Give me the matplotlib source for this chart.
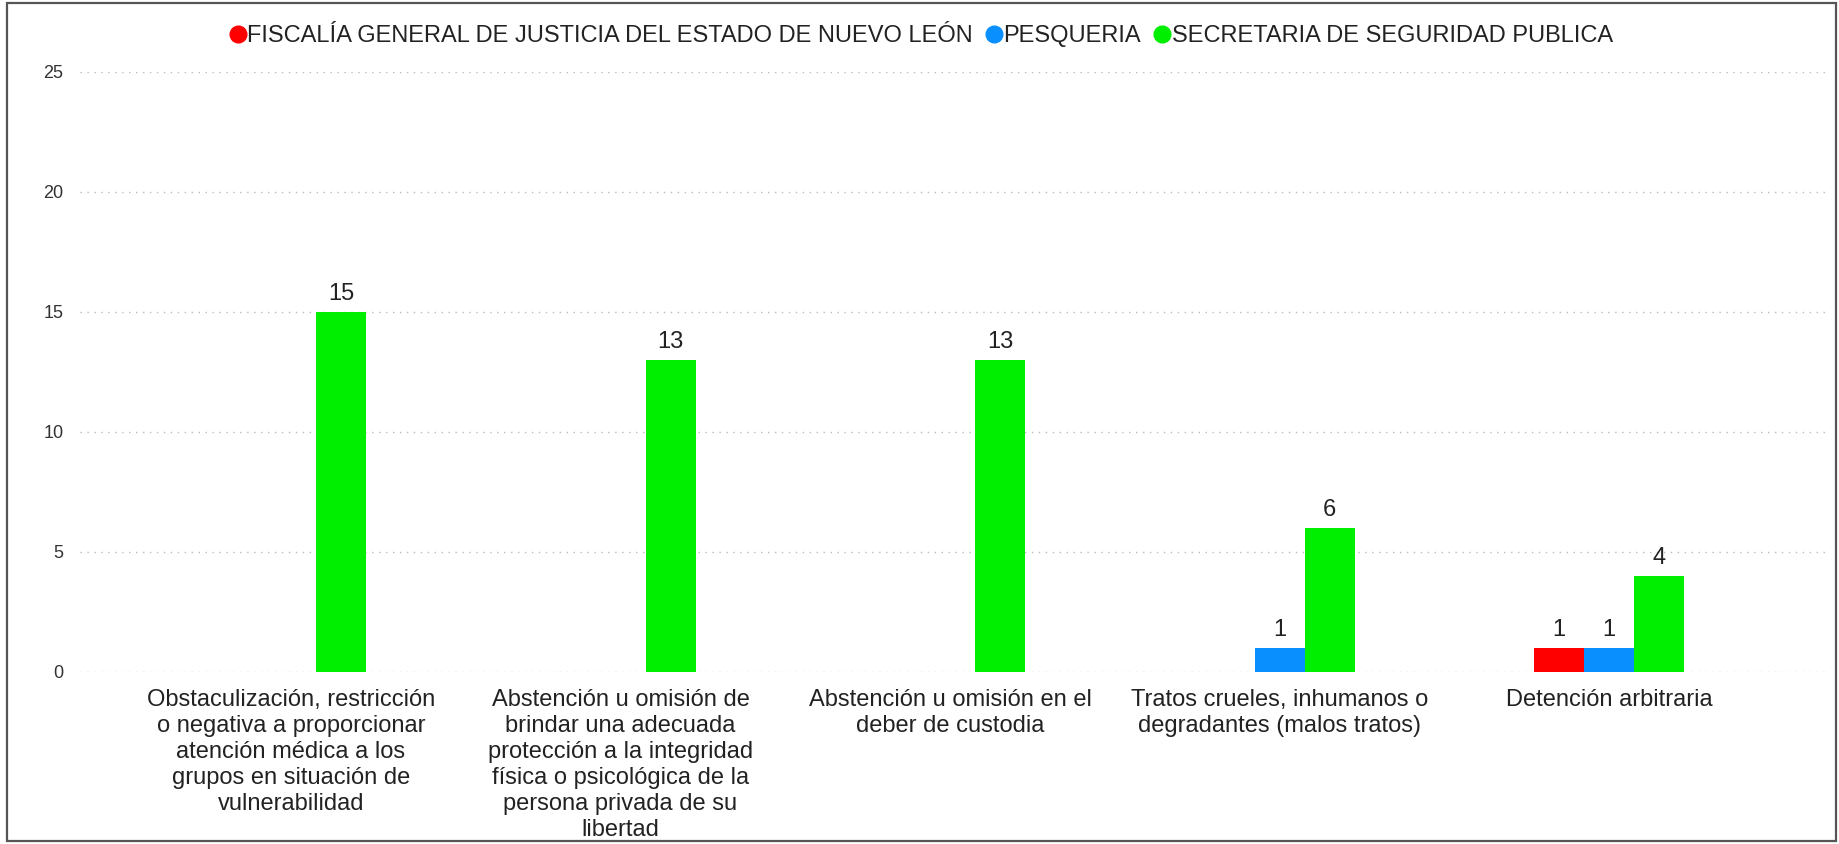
import matplotlib.pyplot as plt
import numpy as np
from matplotlib.lines import Line2D
from matplotlib.patches import Rectangle

plt.rcParams['font.family'] = ['Liberation Sans', 'DejaVu Sans']

categorias = [
    "Obstaculización, restricción\no negativa a proporcionar\natención médica a los\ngrupos en situación de\nvulnerabilidad",
    "Abstención u omisión de\nbrindar una adecuada\nprotección a la integridad\nfísica o psicológica de la\npersona privada de su\nlibertad",
    "Abstención u omisión en el\ndeber de custodia",
    "Tratos crueles, inhumanos o\ndegradantes (malos tratos)",
    "Detención arbitraria",
]
series = [
    "FISCALÍA GENERAL DE JUSTICIA DEL ESTADO DE NUEVO LEÓN",
    "PESQUERIA",
    "SECRETARIA DE SEGURIDAD PUBLICA",
]
fiscalia = [0, 0, 0, 0, 1]
pesqueria = [0, 0, 0, 1, 1]
seguridad = [15, 13, 13, 6, 4]
colores = ['#FF0000', '#0A8FFF', '#00EE00']

fig = plt.figure(figsize=(18.39, 8.44), dpi=100)
ax = fig.add_axes([80 / 1839, 172 / 844, (1825 - 80) / 1839, (672 - 72) / 844])

x = np.arange(len(categorias))
ancho = 0.152
for i, (vals, color) in enumerate(zip([fiscalia, pesqueria, seguridad], colores)):
    pos = x + (i - 1) * ancho
    ax.bar(pos, vals, width=ancho, color=color, zorder=3)
    for xp, v in zip(pos, vals):
        if v > 0:
            ax.text(xp, v + 0.3, str(v), ha='center', va='bottom',
                    fontsize=17, color='#222222')

ax.set_ylim(0, 25)
ax.set_xlim(-0.64, 4.655)
ax.set_yticks([0, 5, 10, 15, 20, 25])
ax.grid(axis='y', linestyle=(0, (1, 4)), color='#BBBBBB', linewidth=1, zorder=0)
ax.tick_params(axis='y', length=0, pad=12, labelsize=13, labelcolor='#333333')
ax.tick_params(axis='x', length=0, pad=12)
ax.set_xticks(x)
ax.set_xticklabels(categorias, fontsize=17, color='#222222', linespacing=1.24, va='top')
for s in ax.spines.values():
    s.set_visible(False)

handles = [Line2D([], [], marker='o', linestyle='', markersize=12, color=c) for c in colores]
fig.legend(handles, series, loc='center', bbox_to_anchor=(0.5, 1 - 36 / 844), ncol=3,
           frameon=False, fontsize=17, handletextpad=-0.1, columnspacing=0.4,
           handlelength=1.0, labelcolor='#222222')

# marco exterior
fig.patches.append(Rectangle((7 / 1839, 3 / 844), 1829 / 1839, 838 / 844,
                             transform=fig.transFigure, fill=False,
                             edgecolor='#555555', linewidth=1.6))

fig.savefig('out.png', dpi=100)
